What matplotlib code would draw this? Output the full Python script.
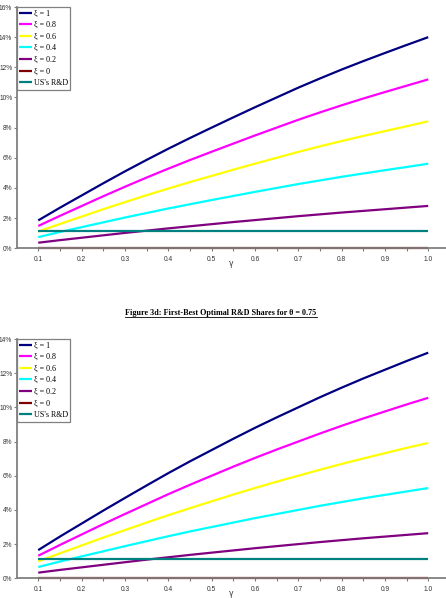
import matplotlib.pyplot as plt
from matplotlib.ticker import FixedLocator, FuncFormatter
from matplotlib.lines import Line2D

gamma = [0.1, 0.15, 0.2, 0.25, 0.3, 0.35, 0.4, 0.45, 0.5, 0.55,
         0.6, 0.65, 0.7, 0.75, 0.8, 0.85, 0.9, 0.95, 1.0]
gamma_ticks = [0.1, 0.2, 0.3, 0.4, 0.5, 0.6, 0.7, 0.8, 0.9, 1.0]
gamma_minor = [0.05, 0.15, 0.25, 0.35, 0.45, 0.55, 0.65, 0.75, 0.85, 0.95]

labels = ['ξ = 1', 'ξ = 0.8', 'ξ = 0.6', 'ξ = 0.4', 'ξ = 0.2', 'ξ = 0', "US's R&D"]
colors = ['#000080', '#FF00FF', '#FFFF00', '#00FFFF', '#800080', '#800000', '#008080']

# upper panel (values in %)
top_xi_10 = [1.85, 2.69, 3.5, 4.31, 5.1, 5.86, 6.6, 7.31, 8.0, 8.68,
             9.35, 10.0, 10.65, 11.26, 11.85, 12.41, 12.95, 13.48, 14.0]
top_xi_08 = [1.48, 2.15, 2.8, 3.45, 4.08, 4.69, 5.28, 5.85, 6.4, 6.94,
             7.48, 8.0, 8.52, 9.01, 9.48, 9.93, 10.36, 10.78, 11.2]
top_xi_06 = [1.11, 1.61, 2.1, 2.59, 3.06, 3.52, 3.96, 4.39, 4.8, 5.21,
             5.61, 6.0, 6.39, 6.76, 7.11, 7.45, 7.77, 8.09, 8.42]
top_xi_04 = [0.74, 1.08, 1.4, 1.72, 2.04, 2.34, 2.64, 2.92, 3.2, 3.47,
             3.74, 4.0, 4.26, 4.5, 4.74, 4.96, 5.18, 5.39, 5.61]
top_xi_02 = [0.37, 0.54, 0.7, 0.86, 1.02, 1.17, 1.32, 1.46, 1.6, 1.74,
             1.87, 2.0, 2.13, 2.25, 2.37, 2.48, 2.59, 2.7, 2.81]
top_xi_00 = [0.0] * 19
top_us = [1.16] * 19

# lower panel, theta = 0.75 (values in %)
bot_xi_10 = [1.65, 2.44, 3.2, 3.96, 4.7, 5.43, 6.15, 6.84, 7.5, 8.16,
             8.8, 9.41, 10.0, 10.59, 11.15, 11.69, 12.2, 12.71, 13.2]
bot_xi_08 = [1.32, 1.95, 2.56, 3.17, 3.76, 4.34, 4.92, 5.47, 6.0, 6.53,
             7.04, 7.53, 8.0, 8.47, 8.92, 9.35, 9.76, 10.17, 10.56]
bot_xi_06 = [0.99, 1.46, 1.92, 2.38, 2.82, 3.26, 3.69, 4.1, 4.5, 4.9,
             5.28, 5.65, 6.0, 6.35, 6.69, 7.01, 7.32, 7.63, 7.92]
bot_xi_04 = [0.66, 0.98, 1.28, 1.58, 1.88, 2.17, 2.46, 2.74, 3.0, 3.26,
             3.52, 3.76, 4.0, 4.24, 4.46, 4.68, 4.88, 5.08, 5.28]
bot_xi_02 = [0.33, 0.49, 0.64, 0.79, 0.94, 1.09, 1.23, 1.37, 1.5, 1.63,
             1.76, 1.88, 2.0, 2.12, 2.23, 2.34, 2.44, 2.54, 2.64]
bot_xi_00 = [0.0] * 19
bot_us = [1.13] * 19

title_text = 'Figure 3d: First-Best Optimal R&D Shares for θ = 0.75'

W, H = 446, 598
fig = plt.figure(figsize=(W / 100, H / 100), dpi=100)
fig.patch.set_facecolor('white')

grey = '#808080'
serif = ['Liberation Serif', 'DejaVu Serif']


def draw_panel(ax, series, ymax):
    for vals, lab, col in zip(series, labels, colors):
        ax.plot(gamma, vals, color=col, lw=1.6, label=lab, clip_on=False,
                solid_capstyle='butt', solid_joinstyle='round')
    ax.set_xlim(0.051, 1.041)
    ax.set_ylim(0, ymax)
    for s in ['top', 'right']:
        ax.spines[s].set_visible(False)
    for s in ['left', 'bottom']:
        ax.spines[s].set_color(grey)
        ax.spines[s].set_linewidth(1.3)
    ax.yaxis.set_major_locator(FixedLocator(list(range(0, ymax + 1, 2))))
    ax.yaxis.set_major_formatter(FuncFormatter(lambda v, p: '%d%%' % v))
    ax.xaxis.set_major_locator(FixedLocator(gamma_ticks))
    ax.xaxis.set_minor_locator(FixedLocator(gamma_minor))
    ax.set_xticklabels(['%.1f' % g for g in gamma_ticks])
    ax.tick_params(axis='both', which='both', color=grey, length=2.2, width=0.8,
                   labelsize=4.8, labelcolor='#333333', pad=1.2)
    ax.tick_params(axis='x', which='both', pad=3)
    for t in ax.get_xticklabels() + ax.get_yticklabels():
        t.set_family('Liberation Sans')
    ax.set_xlabel('γ', fontsize=5.5, family='DejaVu Sans', color='#333333')
    ax.xaxis.set_label_coords(0.5, -0.045)
    leg = ax.legend(loc='upper left', bbox_to_anchor=(0, 1), borderaxespad=0,
                    prop={'family': serif, 'size': 5.8}, handlelength=1.6,
                    handletextpad=0.15, labelspacing=0.45, borderpad=0.3,
                    fancybox=False, framealpha=1)
    leg.get_frame().set_edgecolor(grey)
    leg.get_frame().set_linewidth(0.9)
    for h in leg.get_lines():
        h.set_linewidth(1.6)


ax1 = fig.add_axes([17 / W, (H - 248.3) / H, (W - 17) / W, (248.3 - 7) / H])
draw_panel(ax1, [top_xi_10, top_xi_08, top_xi_06, top_xi_04, top_xi_02, top_xi_00, top_us], 16)

ax2 = fig.add_axes([17 / W, (H - 578.3) / H, (W - 17) / W, (578.3 - 339) / H])
draw_panel(ax2, [bot_xi_10, bot_xi_08, bot_xi_06, bot_xi_04, bot_xi_02, bot_xi_00, bot_us], 14)

title = fig.text(221 / W, 1 - 313 / H, title_text, ha='center', va='center',
                 fontsize=5.85, fontweight='bold', family=serif)

# underline the title
fig.canvas.draw()
bb = title.get_window_extent()
fig.add_artist(Line2D([bb.x0 / W, bb.x1 / W], [(bb.y0 + 0.3) / H] * 2,
                      transform=fig.transFigure, color='black', lw=0.6))

fig.savefig('out.png', dpi=100)
